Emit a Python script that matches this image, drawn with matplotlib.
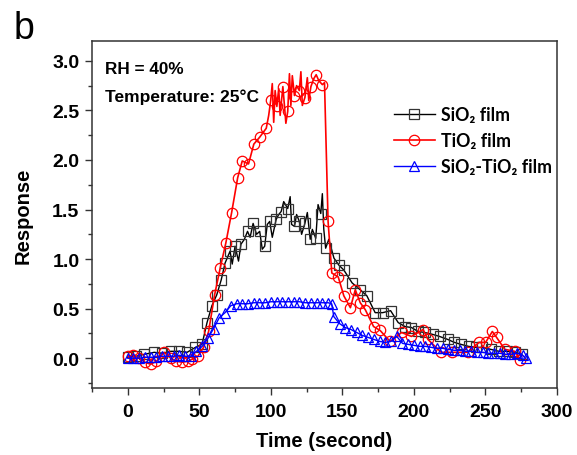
import matplotlib
matplotlib.use("Agg")
import matplotlib.pyplot as plt
from matplotlib.ticker import MultipleLocator
import numpy as np

# SiO2 film: time (s), response, and whether a square marker sits on the point
sio2_time = [0, 5.8, 11.5, 18.5, 24.2, 30, 35.8, 41.5, 47.3, 51.9, 55.4, 58.8,
             62.2, 65.3, 68, 71.5, 73, 75, 77.4, 79.1, 81.5, 83.7, 85.5, 87.6,
             90, 92.2, 94, 95.7, 97.5, 99.2, 101, 103.7, 105.5, 107.2, 109,
             111.8, 113.5, 114.5, 116.5, 118, 119.9, 121.5, 123.8, 125.5, 127.5,
             129, 131.4, 133, 134.9, 136, 137, 138.3, 140.5, 144.1, 147.5, 151,
             156.8, 162.5, 167.1, 172.9, 178.2, 183.7, 189, 193.7, 198.3, 202.9,
             207.5, 213.3, 217.9, 223.6, 228.3, 232.9, 238.2, 243.2, 247.9,
             253.6, 259.4, 265.1, 270.9, 275.5]
sio2_resp = [0.01, 0.02, 0.04, 0.06, 0.05, 0.07, 0.07, 0.06, 0.11, 0.14, 0.36, 0.53,
             0.64, 0.79, 0.96, 1.08, 0.95, 1.13, 0.98, 1.15, 1.20, 1.28, 1.22, 1.36,
             1.25, 1.28, 1.10, 1.13, 1.35, 1.38, 1.22, 1.40, 1.45, 1.48, 1.58,
             1.51, 1.63, 1.35, 1.33, 1.45, 1.38, 1.25, 1.36, 1.47, 1.20,
             1.30, 1.21, 1.55, 1.46, 1.66, 1.30, 1.11, 1.20, 1.01, 0.94, 0.89,
             0.76, 0.69, 0.63, 0.46, 0.46, 0.48, 0.36, 0.32, 0.31, 0.27,
             0.26, 0.24, 0.22, 0.19, 0.16, 0.14, 0.12, 0.11, 0.11,
             0.09, 0.07, 0.07, 0.06, 0.04]
sio2_mark = [1, 1, 1, 1, 1, 1, 1, 1, 1, 1, 1, 1,
             1, 1, 1, 1, 0, 1, 0, 1, 0, 1, 0, 1,
             0, 1, 0, 1, 0, 1, 0, 1, 0, 1, 0,
             1, 0, 0, 1, 0, 1, 0, 1, 0, 1,
             0, 1, 0, 1, 0, 0, 1, 0, 1, 1, 1,
             1, 1, 1, 1, 1, 1, 1, 1, 1, 1,
             1, 1, 1, 1, 1, 1, 1, 1, 1,
             1, 1, 1, 1, 1]

# TiO2 film
tio2_time = [0, 4, 8, 12, 16, 20, 25.5, 30, 34, 38, 42, 45, 49, 53, 56.5, 60.7,
             64.6, 68.5, 72.6, 76.8, 80, 84.4, 88.1, 92.2, 96.8, 98.5, 99.9, 101,
             102, 103, 104.2, 105.5, 106.5, 108.4, 109.5, 110.5, 111.8, 113, 114,
             115, 116.5, 118, 119.9, 121, 122, 123.8, 125.5, 126.5, 128, 130,
             131.7, 133.5, 136, 137.5, 140, 142.6, 147.1, 151, 155.6, 159, 162.5,
             166, 171.8, 176.4, 183.3, 191.4, 198.3, 206.4, 209.8, 219, 226.6,
             237.5, 245.5, 250.1, 254.8, 257.8, 263.5, 270.4, 274.3]
tio2_resp = [0.02, 0.03, 0.00, -0.04, -0.06, -0.03, 0.06, 0.00, -0.03, -0.04, -0.03,
             -0.01, 0.02, 0.11, 0.27, 0.64,
             0.91, 1.16, 1.47, 1.82, 1.99, 1.96, 2.16, 2.23, 2.32, 2.45, 2.60, 2.77,
             2.38, 2.70, 2.54, 2.72, 2.45, 2.74, 2.55, 2.37, 2.49, 2.87, 2.55,
             2.85, 2.65, 2.75, 2.70, 2.89, 2.55, 2.63, 2.83, 2.60, 2.74, 2.82,
             2.86, 2.80, 2.76, 2.78, 1.38, 0.86, 0.82, 0.63, 0.51, 0.69, 0.56,
             0.49, 0.32, 0.28, 0.17, 0.26, 0.22, 0.29, 0.19, 0.06, 0.06,
             0.06, 0.16, 0.16, 0.27, 0.21, 0.09, 0.07, -0.02]
tio2_mark = [1, 1, 1, 1, 1, 1, 1, 1, 1, 1, 1, 1, 1, 1, 1, 1,
             1, 1, 1, 1, 1, 1, 1, 1, 1, 0, 1, 0,
             0, 0, 1, 0, 0, 1, 0, 0, 1, 0, 0,
             0, 1, 0, 1, 0, 0, 1, 0, 0, 1, 0,
             1, 0, 1, 0, 1, 1, 1, 1, 1, 1, 1,
             1, 1, 1, 1, 1, 1, 1, 1, 1, 1,
             1, 1, 1, 1, 1, 1, 1, 1]

# SiO2-TiO2 composite film
comp_time = [0, 4, 8, 12, 16, 20, 24, 28, 32, 36, 40, 44, 48, 52, 56, 60, 64, 68,
             72, 76, 80, 84, 88, 92, 96, 100, 104, 108, 112, 116, 120, 124, 128,
             132, 136, 140, 142.5, 144, 148, 152, 156, 160, 164, 168, 172, 176,
             180, 184, 188, 192, 196, 200, 204, 208, 212, 216, 220, 224, 228,
             232, 236, 240, 244, 248, 252, 256, 260, 264, 268, 272, 276, 278]
comp_resp = [0.00, 0.00, 0.00, 0.01, 0.01, 0.01, 0.02, 0.02, 0.02, 0.03, 0.02, 0.02,
             0.07, 0.12, 0.20, 0.30, 0.41, 0.46, 0.53, 0.55, 0.55, 0.55, 0.56, 0.56,
             0.56, 0.57, 0.57, 0.57, 0.57, 0.57, 0.57, 0.56, 0.56, 0.56, 0.56, 0.56,
             0.55, 0.42, 0.35, 0.31, 0.29, 0.26, 0.23, 0.21, 0.19, 0.17, 0.16,
             0.17, 0.22, 0.15, 0.14, 0.13, 0.12, 0.12, 0.11, 0.10, 0.10, 0.09,
             0.08, 0.08, 0.07, 0.07, 0.06, 0.06, 0.05, 0.05, 0.05, 0.04, 0.04,
             0.05, 0.03, 0.00]

labels = ["SiO\u2082 film", "TiO\u2082 film", "SiO\u2082-TiO\u2082 film"]
colors = ["#000000", "#ff0000", "#0000ff"]

bold = {"family": ["Liberation Sans", "DejaVu Sans"], "weight": "bold"}

fig = plt.figure(figsize=(5.77, 4.56), dpi=100)
W, H = 577, 456
ax = fig.add_axes([92 / W, 1 - 389 / H, (557 - 92) / W, (389 - 42) / H])

ax.plot(sio2_time, sio2_resp, color=colors[0], lw=1.0, marker="s", ms=7,
        mfc="none", mec="#333333", mew=0.9,
        markevery=np.array(sio2_mark, dtype=bool), label=labels[0])
ax.plot(tio2_time, tio2_resp, color=colors[1], lw=1.2, marker="o", ms=7.5,
        mfc="none", mec=colors[1], mew=0.9,
        markevery=np.array(tio2_mark, dtype=bool), label=labels[1])
ax.plot(comp_time, comp_resp, color=colors[2], lw=1.0, marker="^", ms=7.5,
        mfc="none", mec=colors[2], mew=0.9, label=labels[2])

ax.set_xlim(-25, 300)
ax.set_ylim(-0.3, 3.2)
ax.xaxis.set_major_locator(MultipleLocator(50))
ax.xaxis.set_minor_locator(MultipleLocator(25))
ax.yaxis.set_major_locator(MultipleLocator(0.5))
ax.yaxis.set_minor_locator(MultipleLocator(0.25))
ax.yaxis.set_major_formatter(plt.FormatStrFormatter("%.1f"))

for s in ax.spines.values():
    s.set_color("#333333")
    s.set_linewidth(1.1)
ax.tick_params(which="both", direction="out", top=False, right=False,
               color="#333333", width=1.0)
ax.tick_params(which="major", length=5)
ax.tick_params(which="minor", length=3)
ax.tick_params(axis="y", which="major", pad=4)
ax.tick_params(axis="x", which="major", pad=6)
for lab in ax.get_xticklabels() + ax.get_yticklabels():
    lab.set_fontproperties(bold)
    lab.set_fontsize(14)

ax.set_xlabel("Time (second)", fontdict=bold, fontsize=14.5, labelpad=8)
ax.set_ylabel("Response", fontdict=bold, fontsize=14.5, labelpad=14)

fig.text(105 / W, 1 - 70 / H, "RH = 40%", fontdict=bold, fontsize=12.3,
         va="center", ha="left")
fig.text(105 / W, 1 - 97 / H, "Temperature: 25\u00b0C", fontdict=bold,
         fontsize=12.5, va="center", ha="left")
fig.text(14 / W, 1 - 29 / H, "b", family=["Liberation Sans", "DejaVu Sans"],
         fontsize=27, va="center", ha="left")

leg = ax.legend(loc="upper left", bbox_to_anchor=(394 / W, 1 - 107 / H),
                bbox_transform=fig.transFigure, frameon=False,
                prop={"family": ["Lato", "DejaVu Sans"], "weight": "bold",
                      "size": 12.8},
                handlelength=2.3, handletextpad=0.35, labelspacing=0.52,
                borderaxespad=0, borderpad=0)

fig.savefig("out.png", dpi=100)
